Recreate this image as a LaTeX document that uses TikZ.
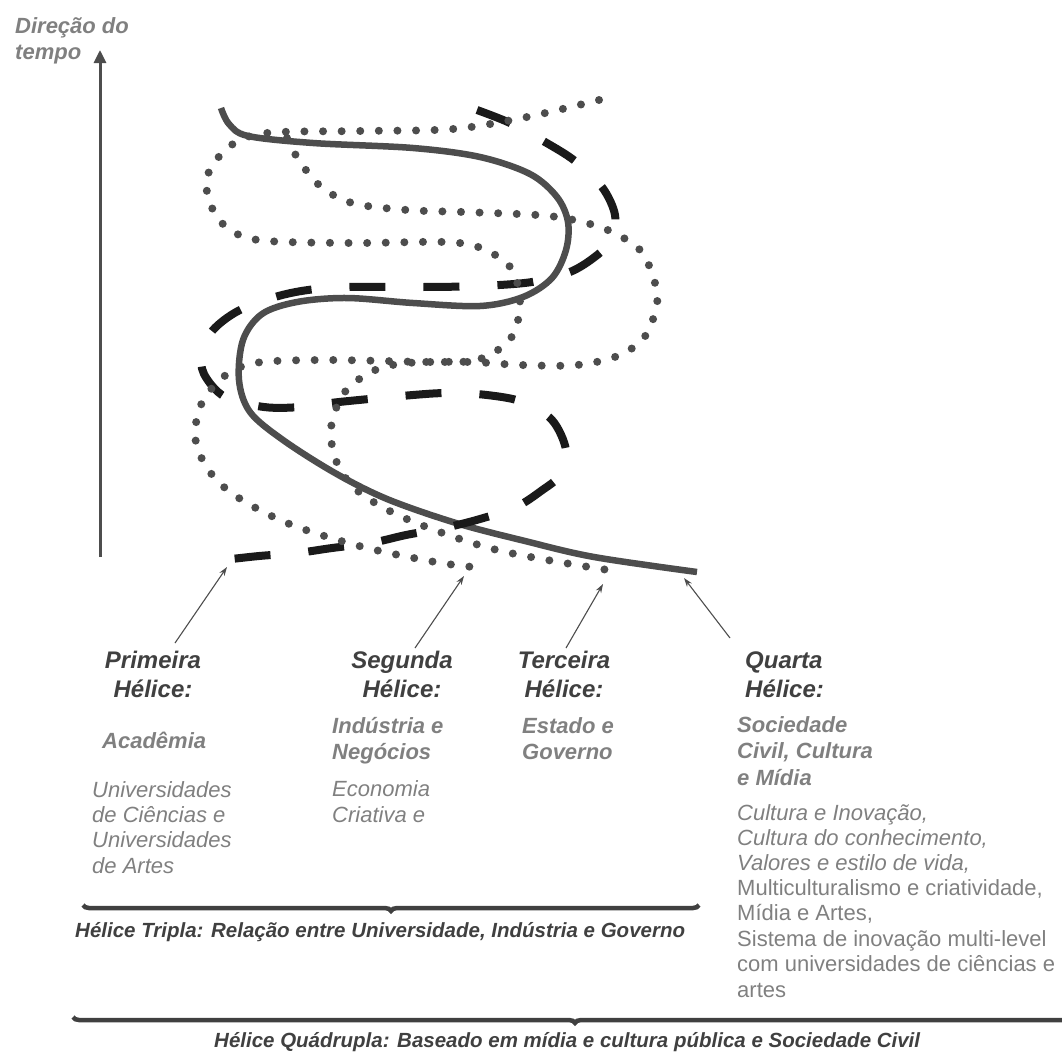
\documentclass[tikz,border=0pt]{standalone}
\usepackage{fontspec}
\setmainfont{Liberation Sans}
\usetikzlibrary{arrows.meta,decorations.pathreplacing}
\definecolor{dk}{HTML}{404040}
\definecolor{md}{HTML}{808080}
\definecolor{ln}{HTML}{4D4D4D}
\definecolor{bk}{HTML}{1A1A1A}
\begin{document}
\begin{tikzpicture}[x=1pt,y=-1pt,
  solidhelix/.style={draw=ln,line width=6.5pt},
  dashhelix/.style={draw=bk,line width=8pt,dash pattern=on 36pt off 38pt},
  dothelix/.style={draw=ln,line width=8pt,line cap=round,dash pattern=on 0pt off 18.6pt},
  ptr/.style={draw=ln,line width=1.1pt,-{Stealth[length=9pt,width=6pt]}},
  timearrow/.style={draw=ln,line width=3pt,-{Triangle[length=13pt,width=12pt]}},
  bracestyle/.style={draw=dk,line width=4.5pt,decorate,decoration={brace,mirror,amplitude=6pt}},
  txt/.style={inner sep=0pt,anchor=base west,align=left},
  dirtxt/.style={txt,text=md,font=\fontsize{22}{26}\selectfont\bfseries\itshape},
  hdr/.style={inner sep=0pt,anchor=base,align=center,text=dk,font=\fontsize{24}{29}\selectfont\bfseries\itshape},
  sub/.style={txt,text=md,font=\fontsize{22}{26.5}\selectfont\bfseries\itshape},
  itx/.style={txt,text=md,font=\fontsize{22}{25.3}\selectfont\itshape},
  itq/.style={txt,text=md,font=\fontsize{22}{25}\selectfont\itshape},
  rgx/.style={txt,text=md,font=\fontsize{22}{25.5}\selectfont},
  captxt/.style={txt,text=dk,font=\fontsize{20.5}{24}\selectfont\bfseries\itshape}
]
\path[use as bounding box] (0,0) rectangle (1062,1052);

% time axis
\coordinate (tb) at (100,557);
\coordinate (tt) at (100,50);
\draw[timearrow] (tb) -- (tt);
% multi-line nodes: base anchor = baseline of the last line
\node[dirtxt] (dir) at (15,59) {Direção do\\tempo};

% fourth helix (solid)
\draw[solidhelix] plot[smooth,tension=0.55] coordinates {
 (221,108) (229,124) (248,136) (313,143) (413,148) (480,157) (530,174) (557,197)
 (568,222) (566,250) (552,278) (523,297) (480,306) (413,303) (347,298) (297,302)
 (262,314) (243,340) (239,380) (250,412) (283,440) (335,473) (387,499) (456,523)
 (525,541) (594,557) (697,572)};

% first helix (dashed)
\draw[dashhelix] plot[smooth,tension=0.55] coordinates {
 (477,110) (510,123) (545,142) (575,161) (602,187) (615,215) (611,240) (596,256)
 (570,272) (532,282) (480,286) (423,287) (348,287) (308,290) (275,297) (238,311)
 (213,330) (202,352) (204,374) (225,397) (264,407) (301,407) (339,402) (413,395)
 (449,393) (487,395) (523,402) (552,420) (566,450) (560,475) (541,491) (516,507)
 (480,519) (444,528) (406,535) (371,543) (332,548) (297,553) (259,556) (223,560)};

% second helix (dotted)
\draw[dothelix] plot[smooth,tension=0.55] coordinates {
 (599,100) (527,117) (453,129) (360,131) (267,133) (230,146) (208,174) (209,200)
 (224,225) (258,240) (351,243) (444,242) (481,248) (511,268) (520,303) (511,338)
 (480,359) (437,362) (327,360) (255,363) (222,378) (200,407) (196,443) (213,476)
 (242,500) (292,525) (363,547) (435,562) (473,567)};

% third helix (dotted)
\draw[dothelix] plot[smooth,tension=0.55] coordinates {
 (287,138) (297,157) (319,185) (352,203) (407,210) (463,212) (537,215) (574,220)
 (610,231) (641,251) (655,283) (657,303) (646,335) (620,355) (577,365) (521,365)
 (470,362) (408,363) (373,371) (344,393) (331,428) (337,463) (359,492) (409,520)
 (497,550) (608,570)};

% labels
\node[hdr] (h1) at (153,697) {Primeira\\Hélice:};
\node[hdr] (h2) at (402,697) {Segunda\\Hélice:};
\node[hdr] (h3) at (564,697) {Terceira\\Hélice:};
\node[hdr,anchor=base west,align=left] (h4) at (745,697) {Quarta\\Hélice:};

\node[sub] (s1) at (102,748) {Acadêmia};
\node[sub] (s2) at (332,759.5) {Indústria e\\Negócios};
\node[sub] (s3) at (522,759.5) {Estado e\\Governo};
\node[sub] (s4) at (737,785) {Sociedade\\Civil, Cultura\\e Mídia};

\node[itx] (i1) at (92,873) {Universidades\\de Ciências e\\Universidades\\de Artes};
\node[itx] (i2) at (332,822) {Economia\\Criativa e};
\node[itq] (i4) at (737,870) {Cultura e Inovação,\\Cultura do conhecimento,\\Valores e estilo de vida,};
\node[rgx] (r4) at (737,997) {Multiculturalismo e criatividade,\\Mídia e Artes,\\Sistema de inovação multi-level\\com universidades de ciências e\\artes};

% pointers
\coordinate (a1s) at (175,643); \coordinate (a1e) at (227,567);
\coordinate (a2s) at (415,648); \coordinate (a2e) at (464,576);
\coordinate (a3s) at (566,648); \coordinate (a3e) at (603,584);
\coordinate (a4s) at (730,638); \coordinate (a4e) at (684,578);
\draw[ptr] (a1s) -- (a1e);
\draw[ptr] (a2s) -- (a2e);
\draw[ptr] (a3s) -- (a3e);
\draw[ptr] (a4s) -- (a4e);

% braces
\coordinate (b1l) at (83,905); \coordinate (b1r) at (699,905);
\coordinate (b2l) at (73,1017); \coordinate (b2r) at (1077,1017);
\draw[bracestyle] (b1l) -- (b1r);
\draw[bracestyle] (b2l) -- (b2r);
\node[captxt] (c1) at (75,937) {Hélice Tripla: Relação entre Universidade, Indústria e Governo};
\node[captxt] (c2) at (214,1047) {Hélice Quádrupla: Baseado em mídia e cultura pública e Sociedade Civil};
\end{tikzpicture}
\end{document}
